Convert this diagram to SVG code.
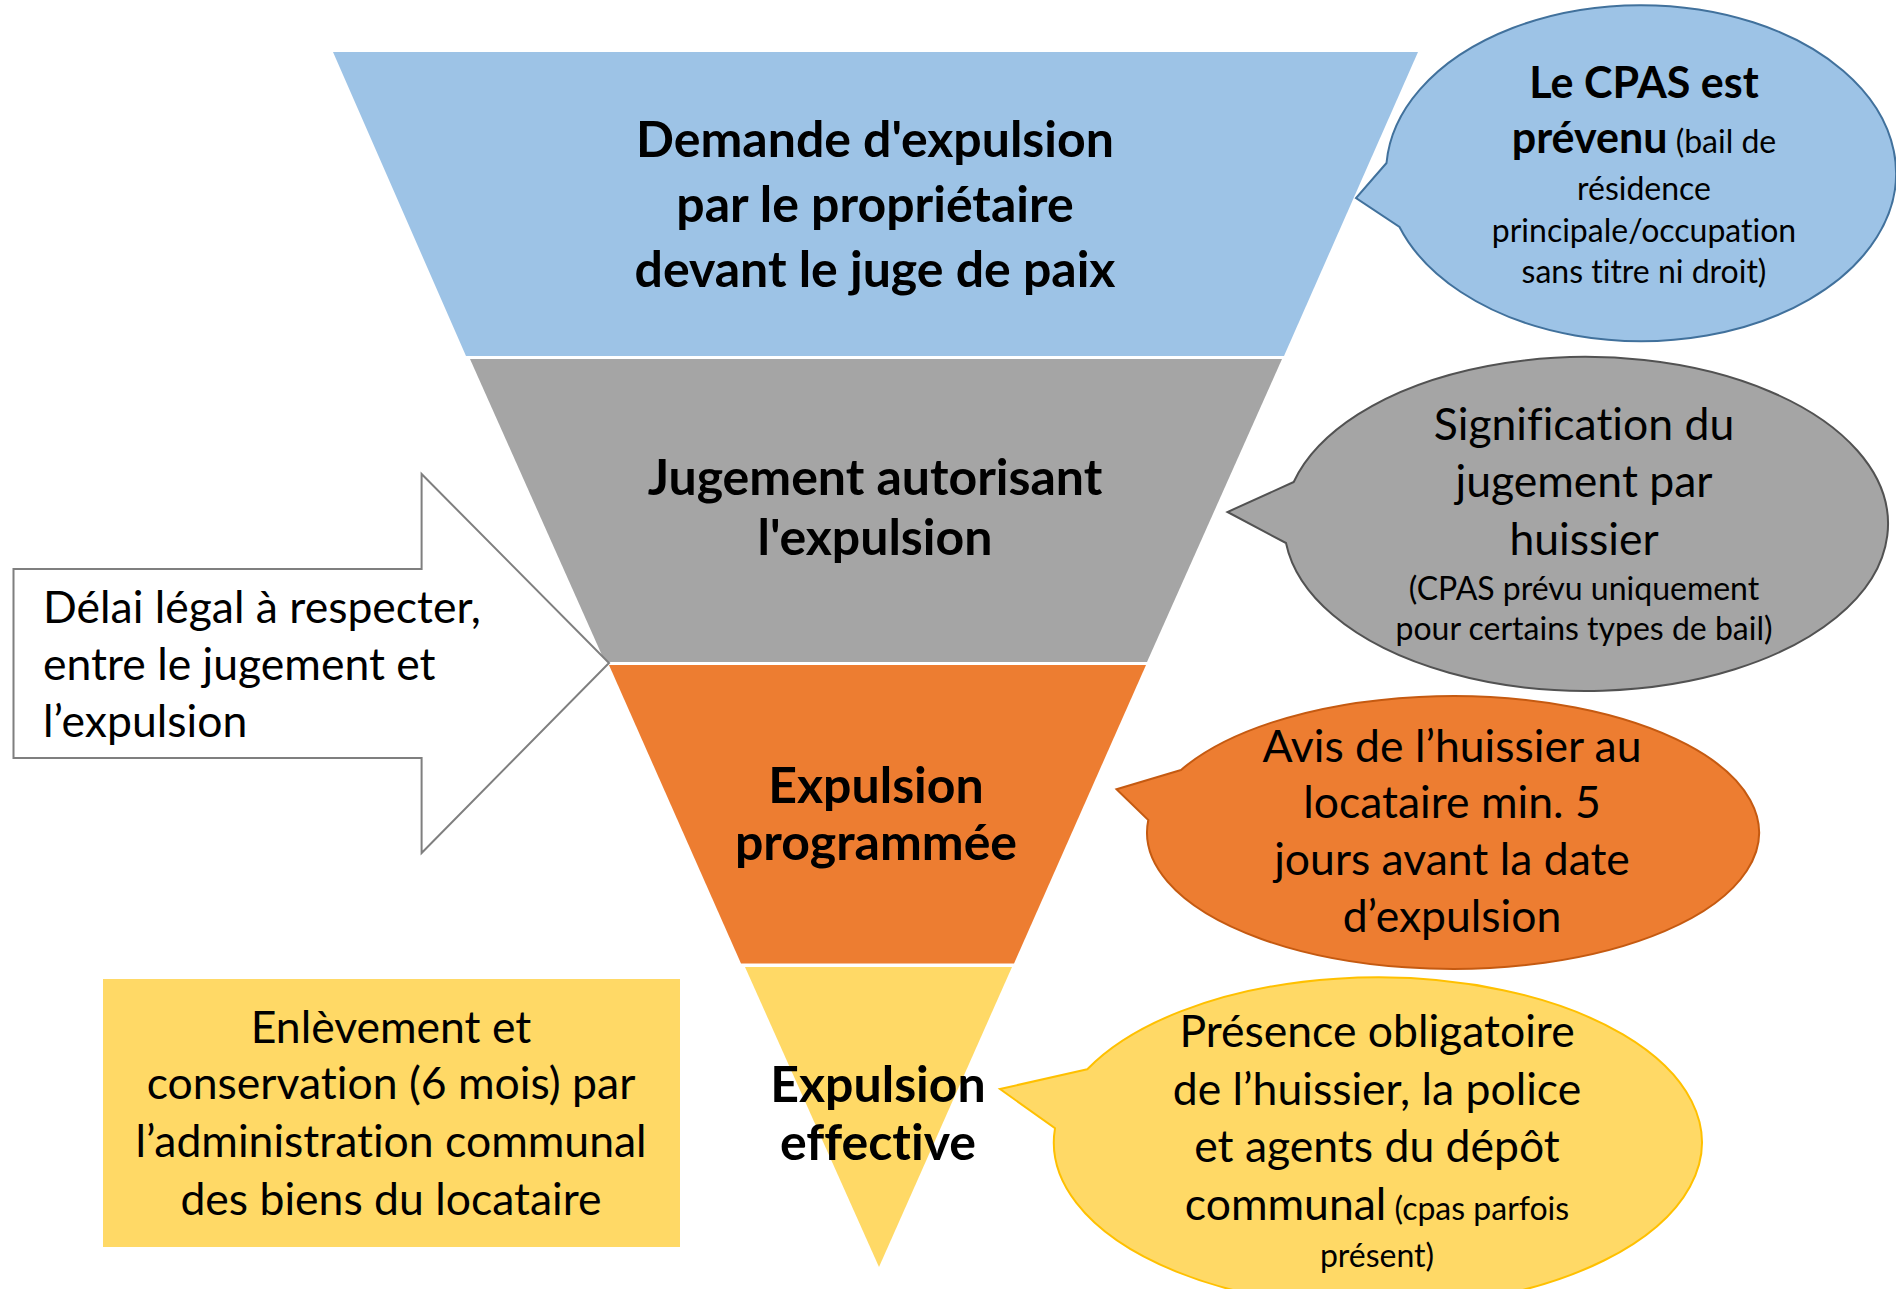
<svg xmlns="http://www.w3.org/2000/svg" width="1896" height="1289" viewBox="0 0 1896 1289">
<style>
text { font-family: Lato, "Open Sans", sans-serif; fill: #000; font-variant-ligatures: none; }
.b { font-weight: bold; font-size: 50px; text-anchor: middle; }
.r { font-size: 44.5px; text-anchor: middle; }
.s { font-size: 32px; }
.bc { font-weight: bold; font-size: 43px; }
.arr { font-size: 44.5px; }
</style>
<rect width="1896" height="1289" fill="#fff"/>
<g id="funnel">
  <g id="step1"><polygon points="333,52 1418,52 1284,356 466,356" fill="#9DC3E6"/>
    <text class="b" x="875" y="157">Demande d'expulsion</text>
    <text class="b" x="875" y="222">par le propriétaire</text>
    <text class="b" x="875" y="287">devant le juge de paix</text></g>
  <g id="step2"><polygon points="470,359 1282,359 1147,662 605,662" fill="#A5A5A5"/>
    <text class="b" x="875" y="495">Jugement autorisant</text>
    <text class="b" x="875" y="555">l'expulsion</text></g>
  <g id="step3"><polygon points="609,665 1146,665 1014,963.5 741,963.5" fill="#ED7D31"/>
    <text class="b" x="876" y="803">Expulsion</text>
    <text class="b" x="876" y="860">programmée</text></g>
  <g id="step4"><polygon points="745,967 1012,967 879,1267" fill="#FFD966"/>
    <text class="b" x="878" y="1102">Expulsion</text>
    <text class="b" x="878" y="1160">effective</text></g>
</g>
<g id="delai">
  <polygon points="13.5,569 421.6,569 421.6,474 609,663 421.6,853 421.6,758 13.5,758" fill="#fff" stroke="#7F7F7F" stroke-width="2"/>
  <text class="arr" x="43" y="623">Délai légal à respecter,</text>
  <text class="arr" x="43" y="680">entre le jugement et</text>
  <text class="arr" x="43" y="737">l’expulsion</text>
</g>
<g id="enlevement">
  <rect x="103" y="979" width="577" height="268" fill="#FFD966"/>
  <text class="r" x="391" y="1043">Enlèvement et</text>
  <text class="r" x="391" y="1099">conservation (6 mois) par</text>
  <text class="r" x="391" y="1157">l’administration communal</text>
  <text class="r" x="391" y="1215">des biens du locataire</text>
</g>
<g id="callout1">
  <path d="M1386.5,163 L1356,198 L1399.5,227 A255,168 0 1 0 1386.5,163 Z" fill="#9DC3E6" stroke="#41719C" stroke-width="2"/>
  <text class="bc" x="1644" y="98" text-anchor="middle">Le CPAS est</text>
  <text x="1644" y="153" text-anchor="middle"><tspan class="bc">prévenu</tspan><tspan class="s"> (bail de</tspan></text>
  <text class="s" x="1644" y="200" text-anchor="middle">résidence</text>
  <text class="s" x="1644" y="242" text-anchor="middle">principale/occupation</text>
  <text class="s" x="1644" y="283" text-anchor="middle">sans titre ni droit)</text>
</g>
<g id="callout2">
  <path d="M1293.7,482 L1227.5,512 L1286,543 A302,167 0 1 0 1293.7,482 Z" fill="#A5A5A5" stroke="#525252" stroke-width="2"/>
  <text class="r" x="1584" y="440">Signification du</text>
  <text class="r" x="1584" y="497">jugement par</text>
  <text class="r" x="1584" y="555">huissier</text>
  <text class="s" x="1584" y="600" text-anchor="middle">(CPAS prévu uniquement</text>
  <text class="s" x="1584" y="640" text-anchor="middle">pour certains types de bail)</text>
</g>
<g id="callout3">
  <path d="M1181,770 L1116.5,789.3 L1148.3,820 A306,136.5 0 1 0 1181,770 Z" fill="#ED7D31" stroke="#C55A11" stroke-width="2"/>
  <text class="r" x="1452" y="762">Avis de l’huissier au</text>
  <text class="r" x="1452" y="818">locataire min. 5</text>
  <text class="r" x="1452" y="875">jours avant la date</text>
  <text class="r" x="1452" y="932">d’expulsion</text>
</g>
<g id="callout4">
  <path d="M1087.3,1069.3 L1000,1089 L1055,1128.3 A324,165 0 1 0 1087.3,1069.3 Z" fill="#FFD966" stroke="#FFC000" stroke-width="2"/>
  <text class="r" x="1377" y="1047">Présence obligatoire</text>
  <text class="r" x="1377" y="1105">de l’huissier, la police</text>
  <text class="r" x="1377" y="1162">et agents du dépôt</text>
  <text class="r" x="1377" y="1220">communal<tspan class="s"> (cpas parfois</tspan></text>
  <text class="s" x="1377" y="1267" text-anchor="middle">présent)</text>
</g>
<g id="connectors"></g>
</svg>
